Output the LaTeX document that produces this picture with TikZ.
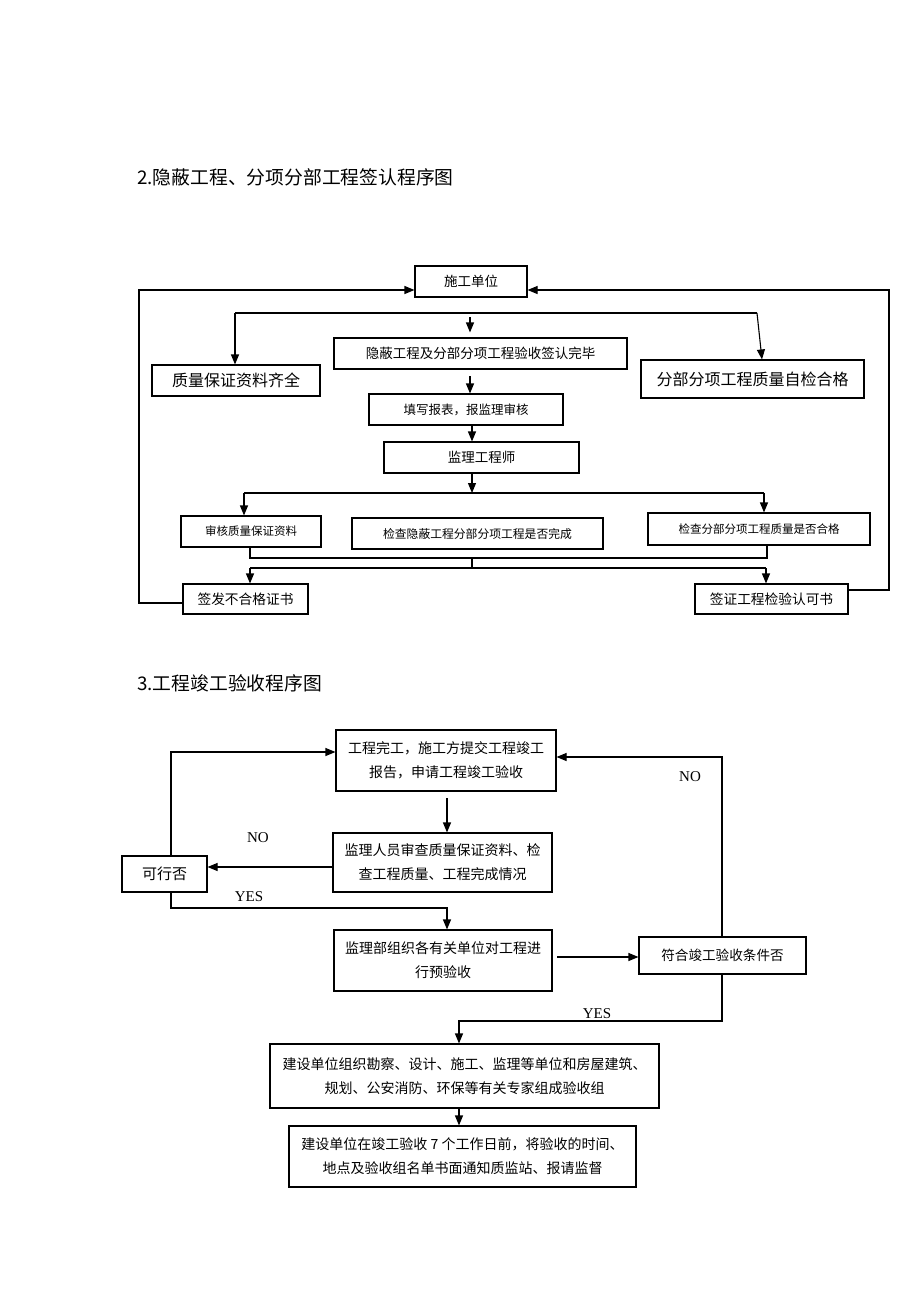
\documentclass[tikz,border=0pt]{standalone}
\usepackage{fontspec}
\setmainfont{Liberation Serif}
\newfontfamily\cjk{Noto Sans CJK SC}
\usetikzlibrary{arrows.meta}
\begin{document}
\begin{tikzpicture}[x=1pt,y=-1pt,
  box/.style={draw, line width=1.1pt, inner sep=0pt, align=center},
  arr/.style={line width=1.1pt, -{Triangle[length=10pt,width=8pt]}},
  ln/.style={line width=1.1pt},
  lab/.style={inner sep=0pt, font=\fontsize{15}{15}\selectfont},
  ttl/.style={inner sep=0pt, anchor=west, font=\cjk\fontsize{18.8}{18.8}\selectfont}]
\useasboundingbox (0,0) rectangle (920,1302);
\fill[white] (0,0) rectangle (920,1302);
% titles
\node[ttl] (t1) at (137,177) {2.隐蔽工程、分项分部工程签认程序图};
\node[ttl] (t2) at (137,683) {3.工程竣工验收程序图};
% ---------- diagram 1 ----------
\node[box, minimum width=112, minimum height=31, font=\cjk\fontsize{13.5}{16}\selectfont] (sg) at (471,281.5) {施工单位};
\node[box, minimum width=293, minimum height=31, font=\cjk\fontsize{13.5}{16}\selectfont] (yb) at (480.5,353.5) {隐蔽工程及分部分项工程验收签认完毕};
\node[box, minimum width=168, minimum height=31, font=\cjk\fontsize{16}{18}\selectfont] (zl) at (236,380.5) {质量保证资料齐全};
\node[box, minimum width=223, minimum height=38, font=\cjk\fontsize{16}{18}\selectfont] (fb) at (752.5,379) {分部分项工程质量自检合格};
\node[box, minimum width=194, minimum height=31, font=\cjk\fontsize{12.5}{16}\selectfont] (tx) at (466,409.5) {填写报表，报监理审核};
\node[box, minimum width=195, minimum height=31, font=\cjk\fontsize{13.5}{16}\selectfont] (jl) at (481.5,457.5) {监理工程师};
\node[box, minimum width=140, minimum height=31, font=\cjk\fontsize{11.5}{14}\selectfont] (sh) at (251,531.5) {审核质量保证资料};
\node[box, minimum width=251, minimum height=31, font=\cjk\fontsize{11.8}{14}\selectfont] (jc) at (477.5,533.5) {检查隐蔽工程分部分项工程是否完成};
\node[box, minimum width=222, minimum height=32, font=\cjk\fontsize{11.5}{14}\selectfont] (jf) at (759,529) {检查分部分项工程质量是否合格};
\node[box, minimum width=125, minimum height=30, font=\cjk\fontsize{13.7}{16}\selectfont] (qf) at (245.5,599) {签发不合格证书};
\node[box, minimum width=153, minimum height=30, font=\cjk\fontsize{13.7}{16}\selectfont] (qz) at (771.5,599) {签证工程检验认可书};
% loops
\coordinate (lt) at (139,290); \coordinate (lb) at (139,603);
\draw[arr] (qf.west |- lb) -- (lb) -- (lt) -- (sg.west |- lt);
\coordinate (rt) at (889,290); \coordinate (rb) at (889,590);
\draw[arr] (qz.east |- rb) -- (rb) -- (rt) -- (sg.east |- rt);
% distribution 1
\coordinate (d1l) at (235,313); \coordinate (d1r) at (757,313);
\draw[ln] (d1l) -- (d1r);
\draw[arr] (d1l) -- (d1l |- zl.north);
\draw[arr] (d1r) -- ([xshift=9.5pt]fb.north);
\coordinate (c1) at (470,317);
\draw[arr] (c1) -- ([yshift=5pt]c1 |- yb.north);
\coordinate (c2) at (470,376);
\draw[arr] (c2) -- (c2 |- tx.north);
\coordinate (vx) at (472,493);
\draw[arr] (tx.south -| vx) -- (jl.north -| vx);
\draw[arr] (jl.south -| vx) -- (vx);
% distribution 2
\coordinate (d2l) at (244,493); \coordinate (d2r) at (764,493);
\draw[ln] (d2l) -- (d2r);
\draw[arr] (d2l) -- (d2l |- sh.north);
\draw[arr] (d2r) -- (d2r |- jf.north);
% collector
\coordinate (e1l) at (250,558); \coordinate (e1r) at (767,558);
\draw[ln] (sh.south -| e1l) -- (e1l) -- (e1r) -- (jf.south -| e1r);
\coordinate (e2l) at (250,568); \coordinate (e2r) at (766,568);
\draw[ln] (vx |- e1l) -- (vx |- e2l);
\draw[ln] (e2l) -- (e2r);
\draw[arr] (e2l) -- (e2l |- qf.north);
\draw[arr] (e2r) -- (e2r |- qz.north);
% ---------- diagram 2 ----------
\tikzset{tb/.style={box, font=\cjk\fontsize{14}{24}\selectfont}}
\node[tb, minimum width=220, minimum height=61] (gw) at (446,760.5) {工程完工，施工方提交工程竣工\\报告，申请工程竣工验收};
\node[tb, minimum width=219, minimum height=59] (jr) at (442.5,862.5) {监理人员审查质量保证资料、检\\查工程质量、工程完成情况};
\node[box, minimum width=85, minimum height=36, font=\cjk\fontsize{15}{18}\selectfont] (kx) at (164.5,874) {可行否};
\node[tb, minimum width=218, minimum height=61] (jb) at (443,960.5) {监理部组织各有关单位对工程进\\行预验收};
\node[box, minimum width=167, minimum height=37, font=\cjk\fontsize{13.6}{16}\selectfont] (fh) at (722.5,955.5) {符合竣工验收条件否};
\node[tb, minimum width=389, minimum height=64] (js) at (464.5,1076) {建设单位组织勘察、设计、施工、监理等单位和房屋建筑、\\规划、公安消防、环保等有关专家组成验收组};
\node[tb, minimum width=347, minimum height=61] (jz) at (462.5,1156.5) {建设单位在竣工验收 7 个工作日前，将验收的时间、\\地点及验收组名单书面通知质监站、报请监督};
% connectors
\coordinate (k1) at (171,752);
\draw[arr] (kx.north -| k1) -- (k1) -- (gw.west |- k1);
\coordinate (k2) at (171,908); \coordinate (k3) at (447,908);
\draw[arr] (kx.south -| k2) -- (k2) -- (k3) -- (k3 |- jb.north);
\coordinate (k3b) at (447,798);
\draw[arr] (k3b) -- (jr.north -| k3b);
\coordinate (k4) at (333,867);
\draw[arr] (jr.west |- k4) -- (kx.east |- k4);
\node[lab] (no1) at (258,838) {NO};
\node[lab] (yes1) at (249,897) {YES};
\coordinate (k5) at (557,957);
\draw[arr] (k5) -- (fh.west |- k5);
\coordinate (k6) at (722,757);
\draw[arr] (fh.north -| k6) -- (k6) -- (gw.east |- k6);
\node[lab] (no2) at (690,777) {NO};
\coordinate (k7) at (722,1021); \coordinate (k8) at (459,1021);
\draw[arr] (fh.south -| k7) -- (k7) -- (k8) -- (k8 |- js.north);
\node[lab] (yes2) at (597,1014) {YES};
\draw[arr] (js.south -| k8) -- (jz.north -| k8);
\end{tikzpicture}
\end{document}
